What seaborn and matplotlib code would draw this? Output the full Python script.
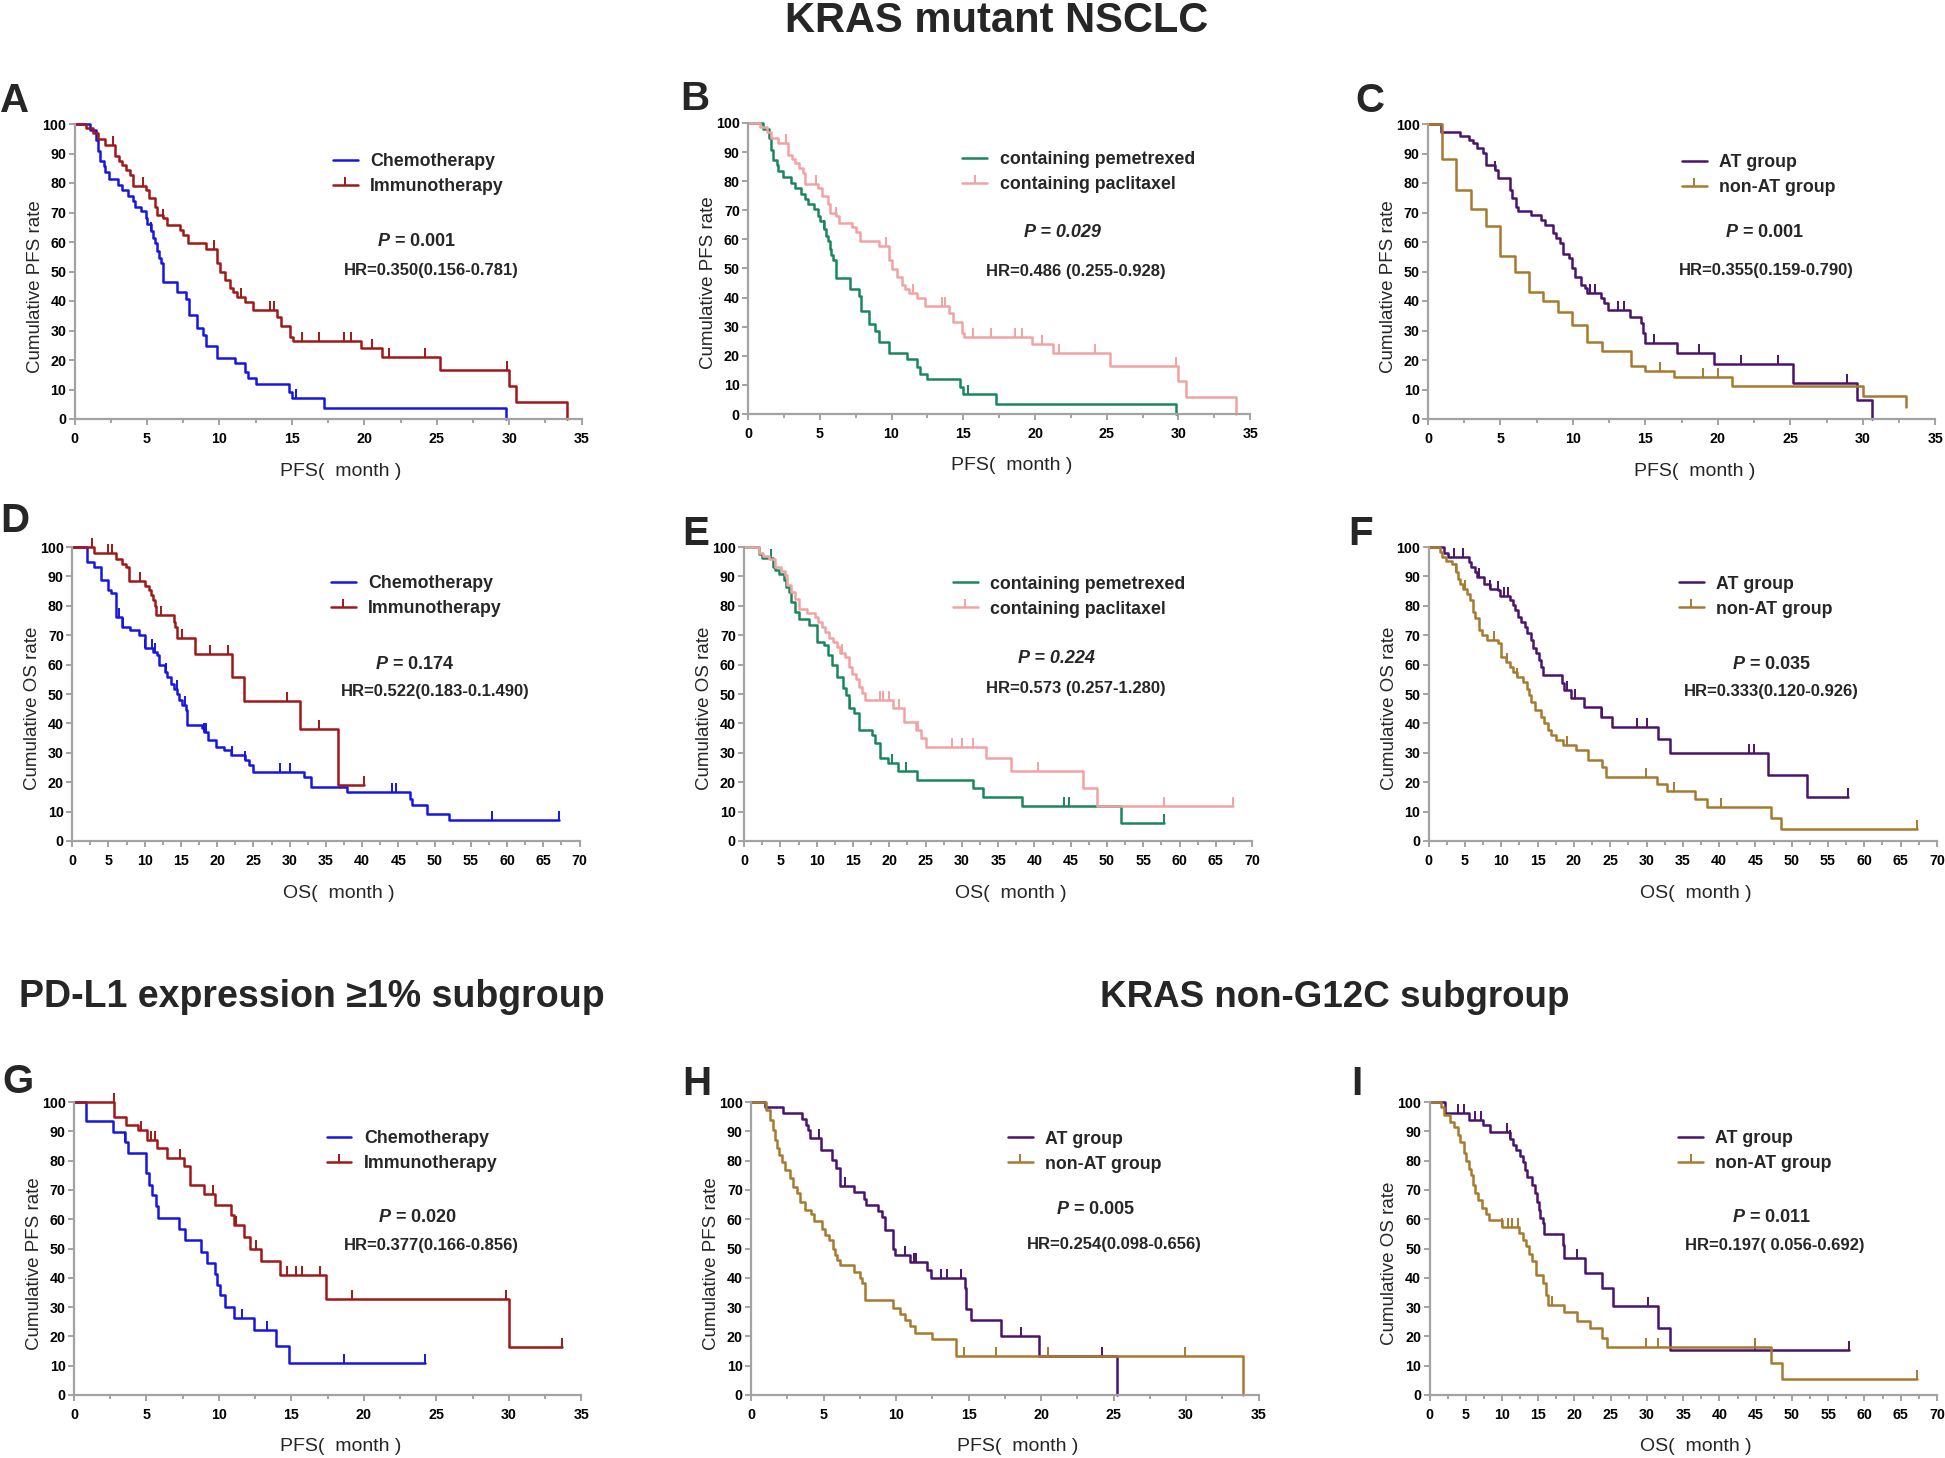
import numpy as np
import pandas as pd
import seaborn as sns
import matplotlib.pyplot as plt
from matplotlib.lines import Line2D

# ---- curve data (time in months, survival in %) ----
# A / B  (PFS, chemo vs immuno; pemetrexed vs paclitaxel have the same shape)
a_chemo_t = [0, 1.05, 1.45, 1.6, 1.75, 2.0, 2.1, 2.4, 3.0, 3.3, 3.7, 4.0, 4.2, 4.6, 4.9, 5.0, 5.3, 5.4, 5.55, 5.7,
             5.8, 5.95, 6.1, 7.1, 7.7, 7.9, 8.45, 8.85, 9.1, 9.8, 11.1, 11.75, 12.0, 12.5, 14.8, 15.0, 17.25, 29.8]
a_chemo_s = [100, 98, 94.7, 90.7, 87.3, 85.6, 83.6, 81.4, 79.4, 77.7, 75.5, 73.8, 72, 70.4, 68.1, 66.2, 63.6, 61.3, 59.6, 56.8,
             54.5, 52.8, 46.6, 42.9, 40.7, 35.3, 30.8, 28.5, 24.8, 20.8, 18.9, 16.1, 13.8, 11.9, 9.3, 7.0, 3.6, 0]
a_chemo_c = [5.3, 15.3]

a_immuno_t = [0, 0.8, 1.3, 1.6, 2.1, 2.8, 3.05, 3.3, 3.55, 3.8, 4.0, 4.9, 5.15, 5.55, 5.7, 6.1, 6.35, 7.25, 7.5, 7.8,
              9.1, 9.8, 10.05, 10.4, 10.7, 10.95, 11.2, 11.75, 12.3, 14.0, 14.25, 14.9, 15.05, 19.8, 21.25, 25.2, 30.0, 30.5, 34.0]
a_immuno_s = [100, 98.6, 97, 95, 93, 89, 87.6, 86.2, 84.5, 82.8, 79.1, 77.7, 74.9, 72, 69.2, 68.1, 65.8, 64.1, 62.4, 59.6,
              57.6, 52.8, 49.7, 47.2, 44.3, 42.9, 41.5, 39.8, 37.0, 34.7, 31.6, 27.9, 26.6, 24.0, 20.9, 16.6, 11.2, 5.7, 0]
a_immuno_c = [2.65, 4.75, 6.1, 9.6, 11.5, 13.5, 13.75, 15.7, 16.9, 18.6, 19.1, 20.5, 21.7, 24.2, 29.85]

# C (PFS, AT vs non-AT)
c_at_t = [0, 0.9, 2.2, 2.85, 3.1, 3.4, 3.8, 4.0, 4.6, 4.85, 5.65, 5.8, 6.05, 6.2, 7.1, 7.8, 8.05, 8.6, 8.85, 9.1,
          9.3, 9.7, 9.9, 10.15, 10.55, 10.85, 11.0, 11.9, 12.15, 12.45, 13.9, 14.7, 14.8, 15.0, 17.2, 19.75, 25.2, 29.6, 30.6]
c_at_s = [100, 97.3, 95.8, 94.7, 93.6, 91.9, 90.2, 86.2, 84.5, 81.7, 77.7, 74.9, 72, 70.4, 69.2, 67.5, 65.8, 63.0, 61.3, 59.6,
          56, 54.5, 51.1, 48.3, 45.5, 44.3, 42.6, 41, 39.3, 37.0, 34.7, 32.5, 29.1, 25.7, 22.3, 18.6, 12.3, 6.4, 0]
c_at_c = [4.6, 11.2, 11.5, 13.1, 13.5, 15.6, 18.7, 21.6, 24.15, 28.9]

c_nonat_t = [0, 1.0, 1.9, 3.0, 4.0, 5.0, 6.0, 7.0, 7.95, 9.0, 9.95, 11.0, 12.0, 14.0, 15.0, 17.0, 21.0, 30.0, 33.0]
c_nonat_s = [100, 88.1, 77.5, 71.2, 65.3, 55.4, 50, 42.9, 40, 36.2, 31.7, 26.2, 22.9, 18.1, 16.3, 14.4, 11.3, 7.8, 4.2]
c_nonat_c = [16.0, 18.95, 20.0]

# D (OS, chemo vs immuno)
d_chemo_t = [0, 2.0, 3.0, 4.0, 5.0, 5.35, 6.0, 6.9, 8.0, 9.2, 10.0, 11.1, 11.7, 12.0, 12.8, 13.1, 13.6, 14.0, 14.5, 14.8,
             15.1, 15.65, 15.9, 17.9, 18.2, 18.75, 19.9, 21.0, 21.85, 23.8, 24.4, 24.95, 32.0, 32.9, 37.9, 46.6, 46.9, 48.9, 52.0, 67.2]
d_chemo_s = [100, 94.9, 93.2, 88.7, 85.3, 84.4, 76.2, 72.8, 71.9, 70.0, 65.5, 64.3, 63.2, 59.8, 57.5, 55.8, 53.5, 51.8, 50.1, 47.8,
             46.1, 44.7, 39.3, 38.5, 37.0, 34.2, 32.0, 30.8, 29.1, 27.4, 25.7, 23.4, 21.7, 18.4, 16.7, 14.4, 12.1, 9.3, 7.0, 7.0]
d_chemo_c = [6.4, 7.0, 10.0, 11.0, 11.4, 13.0, 14.4, 15.5, 18.2, 18.5, 22.1, 23.8, 28.6, 30.0, 44.1, 44.7, 57.9, 67.2]

d_immuno_t = [0, 3.0, 6.1, 6.9, 7.4, 7.8, 7.9, 10.0, 10.6, 10.9, 11.15, 11.4, 11.6, 14.0, 14.25, 14.5, 16.95, 22.0, 23.7, 31.4, 36.65, 40.3]
d_immuno_s = [100, 98.1, 96, 94.3, 93.2, 90.9, 88.3, 86.9, 85.3, 83.6, 81.9, 79.8, 76.8, 74.6, 72.8, 69.2, 63.5, 55.8, 47.6, 38.2, 18.9, 18.9]
d_immuno_c = [2.7, 5.0, 5.5, 9.3, 12.3, 15.1, 19.0, 21.5, 29.7, 34.0, 40.3]

# E (OS, pemetrexed vs paclitaxel)
e_pem_t = [0, 2.1, 2.4, 4.0, 4.25, 4.8, 5.45, 5.8, 6.15, 6.4, 7.0, 7.5, 9.0, 10.1, 11.05, 11.6, 12.15, 12.85, 13.6, 14.05,
           14.5, 15.15, 15.8, 17.6, 18.1, 18.7, 19.8, 21.25, 23.85, 31.5, 32.85, 38.3, 51.9, 57.9]
e_pem_s = [100, 97.7, 96.4, 93.2, 92.3, 90.9, 88.7, 86.4, 84.7, 81.3, 77.9, 75.4, 73.6, 67.7, 66.6, 63.2, 59.8, 55.8, 51.9, 49.6,
           45.1, 43.4, 37.9, 36.0, 33.2, 28.4, 26.4, 23.9, 20.7, 17.9, 15.1, 11.9, 6.0, 6.0]
e_pem_c = [3.7, 14.6, 20.4, 22.3, 44.1, 44.8, 57.9]

e_pac_t = [0, 2.1, 2.6, 3.4, 4.25, 5.05, 5.6, 5.9, 6.4, 7.0, 7.5, 8.6, 9.7, 10.2, 10.7, 11.2, 11.75, 12.3, 12.85, 13.2,
           13.95, 14.5, 14.9, 15.4, 15.8, 16.2, 16.7, 20.5, 22.05, 23.75, 24.4, 25.1, 33.3, 36.8, 46.7, 48.6, 67.3]
e_pac_s = [100, 98, 96.8, 96, 93.2, 91.8, 90.4, 87.0, 84.7, 82.4, 79.0, 77.4, 76.2, 74.5, 72.8, 71.1, 68.9, 67.7, 66.0, 63.9,
           62.6, 59.2, 56.9, 55.2, 52.4, 50.3, 47.8, 45.3, 40.5, 37.7, 34.9, 32.0, 28.4, 23.8, 17.9, 11.9, 11.9]
e_pac_c = [13.5, 18.7, 19.2, 20.0, 21.4, 23.9, 28.6, 30.0, 31.5, 40.5, 57.9, 67.3]

# F (OS, AT vs non-AT)
f_at_t = [0, 2.1, 2.65, 5.6, 5.85, 6.4, 6.65, 7.55, 8.5, 9.55, 9.85, 11.15, 11.6, 11.95, 12.35, 12.75, 13.2, 13.55, 14.1, 14.35,
          14.8, 15.15, 15.4, 15.7, 18.35, 18.7, 19.55, 21.4, 23.8, 25.25, 31.6, 33.2, 46.8, 52.1, 57.8]
f_at_s = [100, 98, 96.6, 94.9, 93.2, 91.5, 89.8, 87.5, 85.8, 85.3, 83.2, 81.9, 80.2, 78.7, 76.2, 74.5, 72.8, 70.8, 68.3, 65.5,
          63.8, 61.5, 59.2, 56.4, 53.6, 51.3, 48.5, 45.7, 42.3, 38.9, 34.6, 30.1, 22.4, 15.0, 15.0]
f_at_c = [3.45, 4.7, 6.9, 8.5, 9.55, 10.35, 10.9, 19.1, 20.2, 23.9, 28.7, 30.1, 44.1, 44.8, 57.8]

f_nonat_t = [0, 1.5, 1.85, 2.4, 3.2, 3.7, 4.0, 4.35, 4.7, 5.3, 5.75, 6.1, 6.4, 6.9, 7.35, 8.0, 9.55, 10.0, 10.65, 11.15,
             11.6, 12.1, 13.0, 13.55, 13.8, 14.1, 14.6, 15.4, 15.95, 16.4, 16.9, 17.55, 18.5, 20.3, 21.9, 23.9, 24.45, 31.4, 32.85, 36.7,
             38.3, 47.15, 48.5, 67.25]
f_nonat_s = [100, 98.3, 96.6, 95.2, 94.3, 91.5, 89.2, 87.5, 85.8, 84.1, 81.9, 77.9, 75.7, 71.7, 70.0, 68.5, 67.4, 62.6, 60.9, 59.2,
             57.5, 55.8, 54.1, 51.8, 49.6, 47.4, 44.5, 42.3, 40.0, 37.9, 36.0, 34.3, 32.6, 31.1, 27.5, 25.2, 21.8, 19.3, 17.1, 14.2,
             11.4, 7.7, 4.0, 4.0]
f_nonat_c = [3.7, 5.05, 9.0, 10.75, 12.2, 19.1, 29.9, 33.75, 40.3, 67.25]

# G (PFS, PD-L1 >=1%)
g_chemo_t = [0, 0.85, 2.7, 3.5, 3.75, 5.0, 5.2, 5.4, 5.65, 5.8, 7.25, 7.65, 8.75, 9.15, 9.75, 9.9, 10.05, 10.45, 11.05, 12.45, 13.95, 14.85, 24.2]
g_chemo_s = [100, 93.4, 89.8, 86.4, 82.7, 75.6, 71.8, 68.2, 64.4, 60.5, 56.6, 52.8, 48.9, 45.2, 41.2, 37.7, 34.1, 30.1, 26.4, 22.2, 16.7, 10.8, 10.8]
g_chemo_c = [3.55, 11.6, 13.3, 18.6, 24.2]

g_immuno_t = [0, 2.8, 3.6, 4.45, 5.05, 5.7, 6.4, 7.6, 8.0, 8.95, 9.75, 10.85, 11.05, 11.7, 12.15, 12.9, 14.2, 17.4, 30.0, 33.7]
g_immuno_s = [100, 94.9, 92.3, 90.3, 86.9, 84.3, 81.0, 78.2, 71.8, 68.75, 65.0, 61.4, 58, 54.0, 50.0, 45.7, 40.9, 32.7, 16.5, 16.5]
g_immuno_c = [2.75, 4.65, 5.35, 5.6, 7.3, 9.6, 11.2, 12.55, 14.7, 15.3, 15.7, 17.0, 19.2, 29.8, 33.7]

# H (PFS, non-G12C)
h_at_t = [0, 0.95, 2.2, 3.5, 3.75, 3.95, 4.05, 4.85, 5.6, 5.85, 6.15, 7.1, 7.8, 7.9, 8.75, 9.0, 9.2, 9.75, 9.95, 10.95,
          12.15, 12.4, 14.75, 14.85, 15.15, 17.25, 19.85, 25.25]
h_at_s = [100, 98.3, 96.25, 94.3, 92.0, 90.3, 87.8, 83.75, 80.1, 77.6, 71.25, 69.3, 67.0, 65.0, 62.7, 60.8, 56.25, 50.0, 47.7, 45.5,
          42.6, 39.8, 36.4, 29.3, 25.6, 20.25, 13.4, 0]
h_at_c = [4.65, 6.5, 10.6, 11.2, 11.4, 13.1, 13.5, 14.5, 18.6, 24.2]

h_nonat_t = [0, 1.05, 1.3, 1.5, 1.65, 1.8, 1.95, 2.1, 2.3, 2.65, 2.85, 3.15, 3.4, 3.7, 4.1, 4.35, 4.9, 5.1, 5.4, 5.65,
             5.8, 5.95, 6.1, 7.1, 7.5, 7.65, 7.85, 9.75, 10.25, 10.6, 10.95, 11.3, 12.5, 14.15, 33.95]
h_nonat_s = [100, 97.2, 93.75, 90.3, 86.9, 84.4, 81.8, 79.5, 76.7, 73.9, 71.0, 69.0, 65.9, 63.1, 61.7, 59.4, 56.8, 54.5, 52.8, 50.0,
             47.9, 46.0, 44.3, 42.0, 39.8, 38.1, 32.4, 29.8, 27.5, 25.6, 23.5, 21.0, 19.0, 13.4, 0]
h_nonat_c = [14.7, 16.9, 20.45, 29.9]

# I (OS, non-G12C)
i_at_t = [0, 2.1, 5.5, 7.35, 8.4, 11.05, 11.5, 12.0, 12.55, 12.95, 13.2, 13.45, 14.1, 14.55, 14.8, 15.05, 15.3, 15.6, 15.85, 18.4,
          18.6, 21.45, 23.85, 25.3, 31.55, 33.2, 57.9]
i_at_s = [100, 96.3, 94.0, 92.1, 89.8, 87.5, 85.3, 83.6, 81.5, 79.6, 76.8, 74.5, 71.7, 68.9, 66.0, 63.2, 60.3, 58.6, 55.0, 51.2,
          46.7, 41.6, 36.5, 30.5, 22.9, 15.3, 15.3]
i_at_c = [3.9, 4.7, 6.3, 7.1, 10.65, 11.05, 20.4, 30.1, 44.9, 57.9]

i_nonat_t = [0, 1.6, 2.0, 2.8, 3.35, 3.9, 4.25, 4.7, 5.1, 5.5, 5.75, 6.0, 6.3, 6.7, 7.25, 7.75, 8.15, 10.0, 12.4, 12.95,
             13.3, 13.75, 14.1, 14.65, 15.7, 16.1, 16.4, 18.5, 20.4, 22.15, 23.85, 24.55, 47.15, 48.6, 67.3]
i_nonat_s = [100, 98.3, 95.5, 93.2, 91.3, 88.7, 86.4, 82.7, 80.0, 77.3, 75.1, 71.7, 68.9, 66.6, 63.7, 61.8, 59.8, 57.5, 55.2, 52.9,
             50.7, 48.2, 45.6, 41.0, 38.2, 34.2, 30.8, 28.3, 25.2, 22.9, 19.5, 16.3, 10.8, 5.3, 5.3]
i_nonat_c = [10.0, 10.8, 11.35, 12.15, 16.9, 29.8, 31.55, 44.9, 67.3]

p_values = ["0.001", "0.029", "0.001", "0.174", "0.224", "0.035", "0.020", "0.005", "0.011"]
hr_texts = ["HR=0.350(0.156-0.781)", "HR=0.486 (0.255-0.928)", "HR=0.355(0.159-0.790)",
            "HR=0.522(0.183-0.1.490)", "HR=0.573 (0.257-1.280)", "HR=0.333(0.120-0.926)",
            "HR=0.377(0.166-0.856)", "HR=0.254(0.098-0.656)", "HR=0.197( 0.056-0.692)"]

BLUE, RED = "#1616e2", "#a01818"
GREEN, PINK = "#19875c", "#f3a2a2"
PURPLE, BROWN = "#4a136e", "#a77a2e"

sns.set_style("ticks")
plt.rcParams["font.family"] = ["Liberation Sans", "DejaVu Sans"]
plt.rcParams["font.weight"] = "bold"
plt.rcParams["mathtext.fontset"] = "custom"
plt.rcParams["mathtext.it"] = "Liberation Sans:italic:bold"
plt.rcParams["mathtext.rm"] = "Liberation Sans:bold"

W, H = 1945, 1458
fig = plt.figure(figsize=(W / 100, H / 100), dpi=100)

def step_at(t, s, c):
    idx = np.searchsorted(t, c, side="right") - 1
    return np.asarray(s)[idx]

chemo_pair = [("Chemotherapy", BLUE), ("Immunotherapy", RED)]
drug_pair = [("containing pemetrexed", GREEN), ("containing paclitaxel", PINK)]
at_pair = [("AT group", PURPLE), ("non-AT group", BROWN)]

# box = (left, top, right, bottom) in pixels; leg = (x, ymid) ; p/hr = (x, y) axes fraction
panels = [
    dict(box=(74.6, 124, 581.6, 419), xmax=35, kind="PFS", pair=chemo_pair,
         curves=[(a_chemo_t, a_chemo_s, a_chemo_c), (a_immuno_t, a_immuno_s, a_immuno_c)],
         leg=(0.509, 0.831), p=(0.675, 0.601), hr=(0.703, 0.505), pit=False, letter=("A", 0, 112)),
    dict(box=(748.1, 123, 1250.2, 414), xmax=35, kind="PFS", pair=drug_pair,
         curves=[(a_chemo_t, a_chemo_s, a_chemo_c), (a_immuno_t, a_immuno_s, a_immuno_c)],
         leg=(0.427, 0.831), p=(0.626, 0.623), hr=(0.653, 0.489), pit=True, letter=("B", 680, 110)),
    dict(box=(1428.0, 124, 1935.4, 419), xmax=35, kind="PFS", pair=at_pair,
         curves=[(c_at_t, c_at_s, c_at_c), (c_nonat_t, c_nonat_s, c_nonat_c)],
         leg=(0.500, 0.828), p=(0.664, 0.632), hr=(0.667, 0.505), pit=False, letter=("C", 1355, 112)),
    dict(box=(72.2, 547, 579.6, 841), xmax=70, kind="OS", pair=chemo_pair,
         curves=[(d_chemo_t, d_chemo_s, d_chemo_c), (d_immuno_t, d_immuno_s, d_immuno_c)],
         leg=(0.510, 0.832), p=(0.675, 0.602), hr=(0.715, 0.508), pit=False, letter=("D", 0, 532)),
    dict(box=(744.1, 547, 1252.2, 841), xmax=70, kind="OS", pair=drug_pair,
         curves=[(e_pem_t, e_pem_s, e_pem_c), (e_pac_t, e_pac_s, e_pac_c)],
         leg=(0.411, 0.831), p=(0.614, 0.621), hr=(0.653, 0.519), pit=True, letter=("E", 682, 545)),
    dict(box=(1428.7, 547, 1936.9, 841), xmax=70, kind="OS", pair=at_pair,
         curves=[(f_at_t, f_at_s, f_at_c), (f_nonat_t, f_nonat_s, f_nonat_c)],
         leg=(0.492, 0.831), p=(0.675, 0.602), hr=(0.675, 0.508), pit=False, letter=("F", 1348, 545)),
    dict(box=(73.9, 1102, 581.3, 1395), xmax=35, kind="PFS", pair=chemo_pair,
         curves=[(g_chemo_t, g_chemo_s, g_chemo_c), (g_immuno_t, g_immuno_s, g_immuno_c)],
         leg=(0.498, 0.833), p=(0.677, 0.605), hr=(0.704, 0.510), pit=False, letter=("G", 2, 1093)),
    dict(box=(751.2, 1102, 1258.5, 1395), xmax=35, kind="PFS", pair=at_pair,
         curves=[(h_at_t, h_at_s, h_at_c), (h_nonat_t, h_nonat_s, h_nonat_c)],
         leg=(0.506, 0.831), p=(0.678, 0.634), hr=(0.715, 0.515), pit=False, letter=("H", 682, 1095)),
    dict(box=(1429.5, 1102, 1936.9, 1395), xmax=70, kind="OS", pair=at_pair,
         curves=[(i_at_t, i_at_s, i_at_c), (i_nonat_t, i_nonat_s, i_nonat_c)],
         leg=(0.490, 0.832), p=(0.675, 0.605), hr=(0.681, 0.510), pit=False, letter=("I", 1351, 1095)),
]

for k, pn in enumerate(panels):
    l, t, r, b = pn["box"]
    ax = fig.add_axes([l / W, 1 - b / H, (r - l) / W, (b - t) / H])
    for (tt, ss, cc), (lab, col) in zip(pn["curves"], pn["pair"]):
        sns.lineplot(x=tt, y=ss, ax=ax, color=col, lw=1.8, drawstyle="steps-post", clip_on=False)
        ax.plot(cc, step_at(tt, ss, cc), ls="none", marker=2, ms=6.5, mew=1.4, color=col, clip_on=False)
    xmax = pn["xmax"]
    ax.set_xlim(0, xmax)
    ax.set_ylim(0, 100)
    ax.set_xticks(np.arange(0, xmax + 1, 5))
    ax.set_xticks(np.arange(2.5, xmax, 5), minor=True)
    ax.set_yticks(np.arange(0, 101, 10))
    for sp in ["top", "right"]:
        ax.spines[sp].set_visible(False)
    for sp in ["left", "bottom"]:
        ax.spines[sp].set_color("#a3a3a3")
        ax.spines[sp].set_linewidth(1.6)
    ax.tick_params(axis="both", which="both", colors="#a3a3a3", labelcolor="black", width=1.4, labelsize=10.3)
    ax.tick_params(axis="x", which="major", length=4.5, pad=5)
    ax.tick_params(axis="x", which="minor", length=2.8)
    ax.tick_params(axis="y", length=4.5, pad=1.5)

    ax.set_xlabel(f"{pn['kind']}(  month )", fontsize=14, fontweight="normal")
    ax.set_ylabel(f"Cumulative {pn['kind']} rate", fontsize=13.5, fontweight="normal")
    ax.xaxis.set_label_coords(0.525, -0.148)
    ax.yaxis.set_label_coords(-31 / (r - l), 0.45)

    handles = [Line2D([], [], color=pn["pair"][0][1], lw=1.8),
               Line2D([], [], color=pn["pair"][1][1], lw=1.8, marker=2, ms=5.5, mew=1.4)]
    ax.legend(handles, [pn["pair"][0][0], pn["pair"][1][0]], loc="center left", bbox_to_anchor=pn["leg"],
              frameon=False, borderpad=0, borderaxespad=0, handlelength=1.4, handletextpad=0.7,
              labelspacing=0.45, prop={"weight": "bold", "size": 12.8})

    if pn["pit"]:
        ax.text(*pn["p"], f"P = {p_values[k]}", transform=ax.transAxes, ha="center", va="center",
                fontsize=13, fontweight="bold", fontstyle="italic")
    else:
        ax.text(*pn["p"], rf"$P$ = {p_values[k]}", transform=ax.transAxes, ha="center", va="center",
                fontsize=13, fontweight="bold")
    ax.text(*pn["hr"], hr_texts[k], transform=ax.transAxes, ha="center", va="center",
            fontsize=12, fontweight="bold")

    letter, lx, ly = pn["letter"]
    fig.text(lx / W, 1 - ly / H, letter, ha="left", va="baseline", fontsize=29, fontweight="bold")

fig.text(997 / W, 1 - 32 / H, "KRAS mutant NSCLC", ha="center", va="baseline", fontsize=30, fontweight="bold")
fig.text(19 / W, 1 - 1007 / H, "PD-L1 expression ≥1% subgroup", ha="left", va="baseline", fontsize=27, fontweight="bold")
fig.text(1100 / W, 1 - 1007 / H, "KRAS non-G12C subgroup", ha="left", va="baseline", fontsize=26.5, fontweight="bold")

fig.savefig("out.png", dpi=100, facecolor="white")
